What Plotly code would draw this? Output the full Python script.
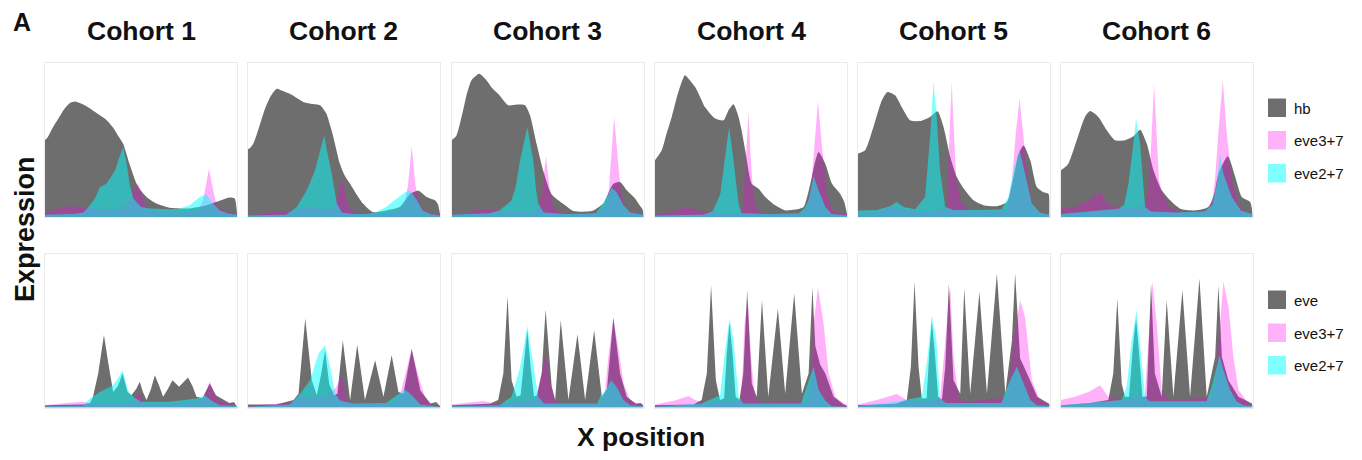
import plotly.graph_objects as go

# Reference canvas (pixels) and page offset of the plot div (browser body margin)
W, H = 1362, 460
OFF = 8
FW, FH = W - 2 * OFF, H - 2 * OFF

COHORTS = ["Cohort 1", "Cohort 2", "Cohort 3", "Cohort 4", "Cohort 5", "Cohort 6"]
TOP_NAMES = ["hb", "eve3+7", "eve2+7"]
BOT_NAMES = ["eve", "eve3+7", "eve2+7"]

# ---- top row: hb, eve3+7, eve2+7 (x position %, expression) ----
HB_1 = [(0,50),(1.5,52),(4,58),(7,64),(10,70),(13,74),(15.6,75),(20,73),(24,70),(28.6,66),(32,63),(35.5,58),(38,53),(40.7,47.6),(44,34.6),(47.7,21.6),(50,17),(52.9,13),(58,8.7),(65,6),(75,5.5),(80,6.5),(84,7.6),(90,10),(96,12.6),(98.8,12),(100,2)]
E37T_1 = [(0,3),(5,5),(10,6.5),(15,7),(20,6.5),(25,6),(30,5),(35,4.5),(40,6),(44,10),(46.5,18),(48.5,21.6),(50.5,15),(52.5,7),(55,4),(65,3),(75,3),(80,4),(82.5,12),(85.4,31.4),(87.5,18),(89.5,7),(93,4),(97,3),(100,2)]
E27T_1 = [(0,1.5),(15,2),(20,3),(23,7),(26,12),(28.6,19.5),(32,21.6),(36.4,30),(38.5,38),(40.7,45.5),(42.5,35),(44,21.6),(46,12),(47.7,9.7),(50,6.5),(55,5.5),(65,5),(70,5.4),(75.4,7.6),(80.6,13),(84,14.7),(87.5,8.7),(91,4.3),(95,2.5),(100,1.5)]

HB_2 = [(0,44),(1,44.4),(3,47.6),(6.6,60.6),(9,70),(11.8,78),(15.2,83.3),(18,82),(22,80),(26,77),(29,74.7),(33,73.5),(37.7,72.5),(41,67),(42.8,60),(44.6,52),(48,34.6),(50.5,27),(53.3,21.6),(57,14),(60,8.7),(65,3.2),(72,4.3),(79,6.5),(82,11),(84.4,15),(88.8,17),(93,13),(97.4,10.8),(99,8),(100,2)]
E37T_2 = [(0,1),(8,2),(12,3.7),(20,3.7),(25,4.5),(30,6),(35,6),(40,5),(45,6),(47,14),(49,26),(51,14),(53,6),(56,3),(65,2),(75,3),(81,5.5),(83.3,20),(85.3,45.9),(87.3,20),(90,6.5),(94,3),(100,2)]
E27T_2 = [(0,1),(20,1.5),(25.6,6.5),(30.8,17.3),(35,30),(37.5,42),(39.8,53),(41.8,40),(43.8,28),(46.4,8.7),(49,3),(55,2),(62,2),(67,3.2),(72,6.5),(77.5,12),(82,16),(84.4,17.3),(88,10.8),(91,4.3),(95,2),(100,1)]

HB_3 = [(0,49.8),(2.6,53),(6,69),(8,80),(10.4,88.7),(14.4,93),(18.3,88.7),(21,84),(24.3,80),(29.6,72.5),(34,73),(38.3,72.5),(40.9,66),(44.3,47.6),(47.8,30),(52,15),(58,8.7),(63.5,3.9),(70,3.5),(74,4.3),(79,8.7),(81.5,15),(84.3,21.6),(87.8,22.7),(91.3,17.3),(95.6,12),(98,7.6),(99.5,5),(100,2)]
E37T_3 = [(0,1.5),(8,2.5),(12,4.5),(20,4.8),(26,4),(30,3.5),(40,3),(45,5),(47,15),(49.2,39.4),(51,20),(53,8),(55,4),(60,2.6),(75,2.6),(80,6),(82,18),(84.7,65.4),(86.8,35),(88.5,14),(91,5),(95,3),(100,2.2)]
E27T_3 = [(0,1.5),(20,2.5),(25,4.3),(31.3,10.8),(33.5,20),(35.7,36.8),(39.5,58.4),(42.6,36.8),(44,18),(45.2,8.7),(48,3),(60,2),(75,2.5),(79,8.7),(83.5,19),(86,16),(89.6,7.6),(93,3),(100,1.5)]

HB_4 = [(0,36.8),(3.5,43.3),(6,54),(8.7,65),(11,76),(13,84.4),(15.6,92),(18,89),(20.9,84.4),(23.5,78),(26,71.4),(31.3,63.9),(35.7,62.8),(38.3,69.3),(40.9,73.2),(43.5,65),(45,57),(47,43.3),(50.4,21.6),(54,18.4),(57.4,13),(62.6,7.6),(67.8,4.3),(73,4.8),(77.4,6.5),(80.9,21.6),(83,34),(85.2,42.2),(88.7,34.6),(92.2,21.6),(96.5,15),(98.5,10),(100,2)]
E37T_4 = [(0,2),(10,3.5),(14,6),(17,7),(20,5),(26,3.5),(32,3),(40,2.5),(45.5,3),(47,30),(48.7,68.2),(50,35),(51.3,13),(53,5),(55,3),(60,2.5),(75,2.5),(79,6),(81.5,22),(84.9,75.3),(87,45),(89.5,16),(92,5),(96,2.5),(100,2)]
E27T_4 = [(0,1),(25,1.5),(30,3.5),(34,15),(36.5,39),(38.6,58.4),(40.9,36.8),(43.5,8.7),(45,2.5),(60,2),(75,2.5),(78,6),(80,10.8),(82.6,26.4),(85.2,17.3),(88.7,6.5),(92,2),(100,1)]

HB_5 = [(0,41),(4,43.3),(8.3,58.4),(12.7,75.8),(15.6,81.2),(19.6,79),(23,71.4),(27.4,62.8),(32.6,62.3),(37.8,65),(41.7,68.6),(44.8,58.4),(48.3,39),(51.7,26),(56,17.3),(60.4,10.8),(65.6,7.6),(72.6,7),(77.8,9.7),(81.3,26),(83.9,41),(86.5,46.5),(90,36.8),(93.4,19.5),(96.9,16),(99.5,15),(100,2)]
E37T_5 = [(0,2),(10,3),(15,6),(18,7),(22,5),(30,3.5),(40,3.5),(46.5,6.5),(47.8,50),(49.1,87.7),(50.2,55),(51.4,26),(53.5,10.8),(56,6.5),(58,3.5),(70,3.5),(78,5),(80.4,23.8),(82.5,55),(84.4,76.8),(86.5,50),(89,21.6),(91.7,6.5),(95,3),(100,2)]
E27T_5 = [(0,4),(10,4.5),(17,7),(20.5,9.7),(24,6.5),(30,5),(35.2,13),(37.8,52),(39.6,87.7),(41,69.3),(43,30),(45.7,6.5),(50,4.5),(65,4.5),(75,5),(78.6,13),(81.3,30),(84.4,43.3),(87.3,28),(90.8,8.7),(95,3),(100,1.5)]

HB_6 = [(0,30.3),(3.8,34.6),(8.2,49.8),(12.5,65),(15.2,68.8),(19.5,65),(23.9,56.3),(28.2,49.8),(33.4,49.8),(37.8,52.4),(41.3,56.7),(44.8,47.6),(48.3,30.3),(52.6,17.3),(57,10.8),(62.2,5.4),(70,4.3),(77,6.5),(80,15),(82.2,28),(87.1,39.4),(91,26),(94.4,13),(98.8,9.7),(100,2)]
E37T_6 = [(0,5.4),(7,6.5),(14.3,10.8),(20.4,16.2),(24.7,7.6),(30,6.5),(40,6.5),(44,8),(45.6,17.3),(47.2,50),(48.6,86.6),(50,50),(51.2,23),(53.8,13),(57,6),(62,3.5),(75,3.5),(79,10),(80.5,26),(82.5,60),(84.5,88.7),(86.5,55),(89.2,23.8),(93.2,6.5),(97,3),(100,2)]
E27T_6 = [(0,2),(20,4.3),(30,5.4),(33,8),(35.2,21.6),(37.8,47.6),(39.2,63.9),(41.3,47.6),(43.9,6.5),(47,3.5),(60,3),(75,3.5),(79,8),(81.4,21.6),(83,41),(84.8,28),(89.2,13),(94,4),(100,2)]

# ---- bottom row: eve, eve3+7, eve2+7 ----
EVE_1 = [(0,1.5),(20,2),(23.5,3),(25,7),(27.7,22),(30.7,47),(33,28.6),(35.5,10),(38,14),(40.4,22),(43,10),(45,8),(47.5,12),(49.4,16.7),(51,10),(52.9,4.8),(55.2,12),(57.2,21),(59.5,14),(61.5,7),(64,12),(66.4,17.7),(69.8,13.4),(74.5,19.5),(76.8,14),(78.9,7),(82,6),(85.8,15.6),(89,8),(93,5),(96,3),(98.5,3.5),(99.5,1.5),(100,0)]
E37B_1 = [(0,1.5),(11,3),(20,3.7),(25,2.5),(35,2.5),(45,3),(47.5,7),(49,10),(51,5),(53,2.6),(70,3),(80,3.5),(83,8),(85.8,16.7),(88.5,9),(91,4.5),(96,2.6),(100,1.5)]
E27B_1 = [(0,0.8),(20,1.2),(23.4,5.8),(28.6,10),(35.5,14.5),(38,19),(40.4,24.2),(43.3,11),(46,7),(50,3.7),(65,3.7),(78.9,5.8),(83.2,8),(86.6,4.5),(91,1.5),(100,1)]

EVE_2 = [(0,2),(15,2),(23.9,4.8),(26.5,9),(30,57.8),(33.4,17.7),(36,8),(38,20),(40.3,37),(42.5,15),(45,8),(46.7,9),(49.5,43.7),(53.3,4.8),(57,40.7),(61,4.8),(66.3,30.7),(70.6,7),(74.9,34),(78.4,10),(81,9),(85.3,38),(89.8,11),(95,2.6),(98,3.5),(100,1)]
E37B_2 = [(0,1),(13.5,2.6),(22,3.2),(26,6.5),(40,6.5),(46,13),(49,21.6),(51.5,6),(54,2.6),(75,2.6),(79,6.5),(82,21.6),(85.3,38),(88.5,21.6),(92.2,6.5),(96,1.5),(100,1)]
E27B_2 = [(0,0.5),(22,2),(27.3,9),(32.5,17.7),(36.9,35),(40.3,40.5),(42.9,26.4),(45.5,9),(48,4.5),(55,2.6),(72,3),(77.5,8),(81.8,11.7),(85.3,8),(89.8,2),(100,0.5)]

EVE_3 = [(0,1.5),(20,2.5),(24.3,4.8),(27,22),(29.2,72.3),(31.3,17.7),(33.9,7),(36,8),(37.8,30),(39.5,50),(41.3,25),(43,7),(44.5,8),(47,22),(49,63.6),(52.2,13.4),(54,4.8),(56.9,56.7),(60.9,4.8),(65.6,47.6),(69.6,4.8),(74.3,50),(78.3,7),(81,12),(84.3,58.4),(87.8,22),(91.3,7),(96,2.5),(98.5,3),(100,1)]
E37B_3 = [(0,2),(11.3,3.7),(16.5,4.3),(23,2.5),(30,2.8),(44,5.5),(47,22),(49,35),(51.3,17.7),(54,4.8),(57,2.6),(78,3),(80,10.8),(81.7,33),(84.3,58),(86.9,39),(89.6,15.6),(93,4.8),(97,2.6),(100,2.5)]
E27B_3 = [(0,0.8),(25,1.5),(31.3,7),(35.7,26),(39.5,53),(42.6,26.4),(45.2,7),(48,2.6),(76,2.6),(77.4,7),(80.9,12.3),(83,17.7),(86,13.4),(89.5,4.8),(93,1.5),(100,0.8)]

EVE_4 = [(0,1.5),(20,2),(24.3,4.8),(27,22),(29.2,79.4),(31.7,17.7),(33.9,4.8),(36,6),(37.4,35),(38.8,55),(40.4,35),(42,7),(44,5),(46,22),(48,76.2),(50.4,15.6),(53,7),(55.7,69.7),(59,7),(64,64.3),(67.8,9),(72.5,74),(76.5,9),(80,22),(82,78),(83.5,40),(86,28),(88.7,22),(93,7),(98,2.2),(100,1)]
E37B_4 = [(0,2),(10.4,4.5),(17.4,7.4),(20.9,4.8),(26,3),(45,5),(46.6,54),(48.3,70.6),(50,33),(52,7),(54.8,3.2),(79,4),(81.2,15.6),(82.6,54.5),(84.9,78),(87.8,54.5),(90.4,22),(93.9,7),(98.5,2.2),(100,2)]
E27B_4 = [(0,0.5),(24.3,2.6),(33.9,8),(36.5,37),(38.8,57.8),(40.9,43.7),(43.5,7),(46,2.6),(76,2.6),(79,13.4),(82.6,26.4),(85.2,11.3),(88.7,4.5),(92,0.8),(100,0.5)]

EVE_5 = [(0,1.5),(20,2.5),(25.7,4.8),(27.8,26.4),(29.7,81.6),(31.8,26.4),(33.5,5.8),(36,6),(37.4,35),(38.7,56),(40.3,35),(42,7),(44,5),(45.7,26.4),(47.6,80.5),(50,17.7),(53.5,9),(55.6,77.3),(58.7,9),(63.5,75),(67.4,9),(72.6,87),(77,9),(80.4,43.3),(82.1,87),(84.7,32),(88.3,22),(93.6,7),(100,2.2)]
E37B_5 = [(0,2),(10,4.8),(20.5,8.7),(25.7,4.8),(35,4),(43,5.8),(46.5,54),(48.3,78.4),(50,33),(52.6,6.5),(56,3.7),(78,6.5),(81.3,43.3),(84.7,69.7),(87.3,58.4),(90.8,17.7),(95,4.8),(100,2.2)]
E27B_5 = [(0,0.8),(20,3.7),(33.5,7),(36.5,33),(38.7,60),(41,43.7),(43,5.8),(46,3),(75,3),(79.5,17.7),(83,26.4),(86.5,15.6),(90,4.8),(93.4,1.5),(100,1)]

EVE_6 = [(0,1.5),(15,3),(24.7,4.8),(27.3,22),(29.4,70.8),(31.7,15.6),(33.4,7),(35.5,7),(37.6,40),(39.2,58),(40.8,35),(42.5,7),(44.8,7),(47,80.5),(49,22),(52.6,7),(55.2,69.7),(58.7,7),(63.4,76.2),(67.4,7),(72.3,83.8),(76.1,7),(80.5,33),(82.2,79.4),(84,33),(87.4,17.7),(92.7,7),(99.7,2.6),(100,0.5)]
E37B_6 = [(0,4.8),(7.3,7),(14.3,10),(20.4,14.5),(24.7,7),(31.7,5.2),(43.7,7),(45.5,43.7),(47.7,81.6),(50,54.5),(52.6,11.3),(56,4.8),(78,6.5),(80.5,15),(83.1,54.5),(84.8,81.6),(87.5,65.4),(90,33),(92.7,11.3),(97.9,3),(100,1.5)]
E27B_6 = [(0,1.5),(19.5,3.7),(31.7,4.8),(34.3,13.4),(36.9,43.7),(39.5,63.2),(41.8,33),(43.9,7),(46,4),(76,4),(78.7,13.4),(81.4,26.4),(82.8,34),(84.8,24.2),(88.3,11.3),(91.8,3.7),(95.3,1.5),(100,1)]

TOP = [(HB_1, E37T_1, E27T_1), (HB_2, E37T_2, E27T_2), (HB_3, E37T_3, E27T_3),
       (HB_4, E37T_4, E27T_4), (HB_5, E37T_5, E27T_5), (HB_6, E37T_6, E27T_6)]
BOT = [(EVE_1, E37B_1, E27B_1), (EVE_2, E37B_2, E27B_2), (EVE_3, E37B_3, E27B_3),
       (EVE_4, E37B_4, E27B_4), (EVE_5, E37B_5, E27B_5), (EVE_6, E37B_6, E27B_6)]

# ---- styling ----
COLORS = ["rgb(110,110,110)", "rgba(255,0,235,0.30)", "rgba(0,255,255,0.50)"]
FONT = "Liberation Sans, Arial, Helvetica, sans-serif"
PANEL_X = [(45, 237), (247.5, 440), (451.5, 643.5), (655, 847), (857.5, 1049.5), (1061, 1252.5)]
ROW_Y = [(63, 217), (253.5, 407.5)]

def px_x(p):
    return (p - OFF) / FW

def px_y(p):
    return 1 - (p - OFF) / FH

fig = go.Figure()
layout = {}
ax = 0
for r, rows in enumerate([TOP, BOT]):
    for c, series in enumerate(rows):
        ax += 1
        xa = "x" if ax == 1 else f"x{ax}"
        ya = "y" if ax == 1 else f"y{ax}"
        names = TOP_NAMES if r == 0 else BOT_NAMES
        for s, pts in enumerate(series):
            xs = [p[0] for p in pts]
            ys = [p[1] for p in pts]
            smooth = (r == 0 and s == 0)
            fig.add_trace(go.Scatter(
                x=xs, y=ys, mode="lines", fill="tozeroy", fillcolor=COLORS[s],
                line=dict(width=0, color=COLORS[s], shape="spline" if smooth else "linear",
                          smoothing=0.6 if smooth else None),
                name=names[s], showlegend=False, hoverinfo="skip", xaxis=xa, yaxis=ya))
        x0, x1 = PANEL_X[c]
        y0, y1 = ROW_Y[r]
        key = "" if ax == 1 else str(ax)
        common = dict(showgrid=False, zeroline=False, showticklabels=False, ticks="",
                      showline=True, linecolor="#ebebeb", linewidth=1, mirror=True,
                      fixedrange=True, range=[0, 100])
        layout["xaxis" + key] = dict(domain=[px_x(x0), px_x(x1)], anchor=ya, **common)
        layout["yaxis" + key] = dict(domain=[px_y(y1), px_y(y0)], anchor=xa, **common)

annotations = []
def ann(text, px, py, size, xanchor="center", angle=0, bold=True):
    annotations.append(dict(text=f"<b>{text}</b>" if bold else text, x=px_x(px), y=px_y(py),
                            xref="paper", yref="paper", xanchor=xanchor, yanchor="middle",
                            showarrow=False, textangle=angle,
                            font=dict(family=FONT, size=size, color="#111111")))

ann("A", 22, 22, 25)
for c, name in enumerate(COHORTS):
    x0, x1 = PANEL_X[c]
    ann(name, (x0 + x1) / 2, 31, 26.5)
ann("Expression", 25, 229, 27, angle=-90)
ann("X position", 641, 437, 26.5)

shapes = []
legend_rows = [(TOP_NAMES, [98.5, 131, 164]), (BOT_NAMES, [290.5, 323.5, 356])]
for names, tops in legend_rows:
    for i, (nm, ty) in enumerate(zip(names, tops)):
        shapes.append(dict(type="rect", xref="paper", yref="paper",
                           x0=px_x(1268), x1=px_x(1286), y0=px_y(ty + 18.5), y1=px_y(ty),
                           fillcolor=COLORS[i], line=dict(width=0)))
        ann(nm, 1292, ty + 9.5, 15, xanchor="left", bold=False)

fig.update_layout(width=FW, height=FH, margin=dict(l=0, r=0, t=0, b=0),
                  paper_bgcolor="white", plot_bgcolor="white", showlegend=False,
                  annotations=annotations, shapes=shapes, **layout)
fig.write_html("out.html")
